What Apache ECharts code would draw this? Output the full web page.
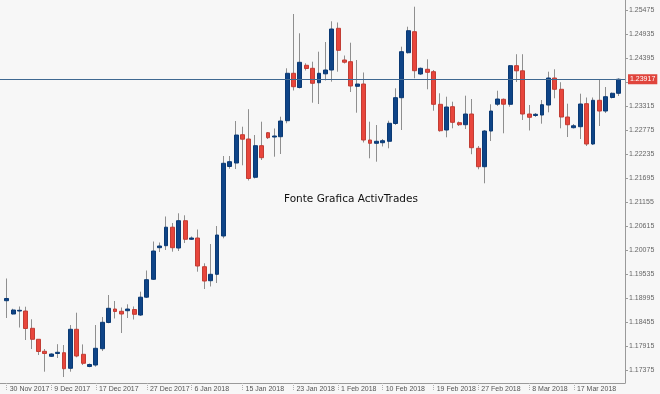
<!DOCTYPE html>
<html><head><meta charset="utf-8">
<script src="https://cdn.jsdelivr.net/npm/echarts@6/dist/echarts.min.js"></script>
<style>html,body{margin:0;padding:0;background:#f7f7f7}#c{width:660px;height:394px}</style>
</head><body><div id="c"></div>
<script>
const opens = [1.18934,1.18635,1.18702,1.18702,1.18313,1.18066,1.17796,1.17683,1.17746,1.17764,
1.17413,1.18291,1.17728,1.17454,1.17487,1.17854,1.18444,1.18747,1.18696,1.18709,
1.18736,1.18612,1.19013,1.19416,1.20127,1.20172,1.20588,1.20120,1.20734,1.20316,
1.20345,1.19699,1.19384,1.19528,1.20390,1.21954,1.22032,1.22669,1.22572,1.21711,
1.22422,1.22714,1.22617,1.22624,1.22984,1.24051,1.23731,1.24231,1.24163,1.23839,
1.24039,1.24125,1.25063,1.24350,1.24312,1.23758,1.23810,1.22550,1.22476,1.22489,
1.22521,1.22921,1.23502,1.24514,1.24987,1.24035,1.24141,1.24087,1.23353,1.22775,
1.23299,1.22939,1.22894,1.23135,1.22363,1.21949,1.22752,1.23355,1.23466,1.23353,
1.24222,1.24107,1.23135,1.23101,1.23112,1.23337,1.23945,1.23691,1.23067,1.22827,
1.22849,1.23367,1.22460,1.23443,1.23202,1.23506,1.23601];
const closes = [1.18984,1.18725,1.18718,1.18309,1.18066,1.17791,1.17746,1.17735,1.17773,1.17404,
1.18291,1.17690,1.17526,1.17499,1.17863,1.18448,1.18763,1.18691,1.18635,1.18747,
1.18628,1.19013,1.19407,1.20052,1.20165,1.20588,1.20127,1.20734,1.20316,1.20345,
1.19715,1.19377,1.19528,1.20412,1.22026,1.22062,1.22662,1.22568,1.21684,1.22422,
1.22152,1.22602,1.22640,1.22977,1.24051,1.23749,1.24298,1.24159,1.23826,1.24051,
1.24125,1.25047,1.24568,1.24300,1.23765,1.23810,1.22550,1.22476,1.22521,1.22534,
1.22926,1.23502,1.24537,1.25009,1.24109,1.24163,1.24073,1.23353,1.22759,1.23292,
1.22948,1.22894,1.23135,1.22377,1.21949,1.22752,1.23202,1.23472,1.23355,1.24222,
1.24107,1.23135,1.23061,1.23128,1.23344,1.23945,1.23691,1.23067,1.22894,1.22870,
1.23360,1.22460,1.23443,1.23202,1.23524,1.23601,1.23917];
const lows = [1.18545,1.18624,1.18331,1.18050,1.17847,1.17712,1.17337,1.17667,1.17645,1.17217,
1.17337,1.17661,1.17487,1.17436,1.17449,1.17802,1.18426,1.18534,1.18207,1.18545,
1.18511,1.18590,1.18995,1.19400,1.20030,1.20075,1.20037,1.20052,1.20232,1.20300,
1.19587,1.19197,1.19254,1.19332,1.20338,1.21904,1.21897,1.21981,1.21639,1.21684,
1.22100,1.22572,1.22174,1.22235,1.22926,1.23664,1.23709,1.24114,1.23389,1.23360,
1.23889,1.23862,1.24087,1.24271,1.23630,1.23164,1.22494,1.22138,1.22062,1.22404,
1.22363,1.22887,1.22775,1.24496,1.23938,1.24012,1.23691,1.23209,1.22737,1.22611,
1.22813,1.22865,1.22797,1.22230,1.21891,1.21576,1.22527,1.23315,1.22701,1.23299,
1.23855,1.23000,1.22764,1.23067,1.22917,1.23173,1.23488,1.22813,1.22617,1.22809,
1.22572,1.22415,1.22437,1.22865,1.23157,1.23484,1.23540];
const highs = [1.19434,1.18754,1.18804,1.18799,1.18516,1.17978,1.17847,1.17751,1.17956,1.17937,
1.18387,1.18664,1.17951,1.17521,1.18387,1.18567,1.19062,1.18927,1.18781,1.18853,
1.18804,1.19137,1.19614,1.20266,1.20244,1.20829,1.20682,1.20901,1.20856,1.20380,
1.20536,1.19776,1.20210,1.20615,1.22190,1.22190,1.22977,1.22849,1.23243,1.22662,
1.22962,1.22730,1.22809,1.23074,1.24163,1.25385,1.24951,1.24276,1.24312,1.24537,
1.24755,1.25221,1.25194,1.24451,1.24739,1.24350,1.24069,1.22962,1.22887,1.22572,
1.22984,1.23713,1.24649,1.25099,1.25549,1.24181,1.24366,1.24125,1.23601,1.23524,
1.23412,1.22966,1.23547,1.23472,1.22415,1.22775,1.23353,1.23659,1.23484,1.24237,
1.24480,1.24480,1.23337,1.23157,1.23450,1.24087,1.24141,1.23850,1.23367,1.22910,
1.23592,1.23506,1.23506,1.23900,1.23742,1.23619,1.23938];
const priceTicks = [1.17375,1.17915,1.18455,1.18995,1.19535,1.20075,1.20615,1.21155,1.21695,1.22235,1.22775,1.23315,1.23855,1.24395,1.24935,1.25475];
const shownPriceTicks = priceTicks.filter(v => Math.abs(v - 1.23855) > 1e-9);
const dateLabelIndex = [0,7,14,22,29,37,45,52,59,67,74,82,89];
const dateLabels = ['30 Nov 2017','9 Dec 2017','17 Dec 2017','27 Dec 2017','6 Jan 2018','15 Jan 2018','23 Jan 2018','1 Feb 2018','10 Feb 2018','19 Feb 2018','27 Feb 2018','8 Mar 2018','17 Mar 2018'];
const watermark = 'Fonte Grafica ActivTrades';

const wickData = opens.map((o, i) => [i, o, closes[i], lows[i], highs[i]]);
const bodyData = opens.map((o, i) => [i, o, closes[i], Math.min(o, closes[i]), Math.max(o, closes[i])]);
const lastClose = closes[closes.length - 1];

const chart = echarts.init(document.getElementById('c'), null, {renderer: 'canvas'});
chart.setOption({
  animation: false,
  backgroundColor: '#f7f7f7',
  textStyle: {fontFamily: 'Liberation Sans, Arial, sans-serif'},
  grid: {left: 0, top: 0, width: 625, height: 383, containLabel: false},
  graphic: [{
    type: 'text', left: 284, top: 194, silent: true,
    style: {text: watermark, fill: '#111', font: '10.5px "DejaVu Sans"'}
  }],
  xAxis: {
    type: 'value', min: -1.05, max: 97.02,
    axisLine: {show: true, onZero: false, lineStyle: {color: '#9a9a9a', width: 1}},
    splitLine: {show: false},
    axisTick: {show: true, customValues: dateLabelIndex, length: 7, lineStyle: {color: '#b0b0b0', type: 'dotted'}},
    axisLabel: {
      customValues: dateLabelIndex, showMinLabel: true, showMaxLabel: true,
      align: 'left', margin: 3, fontSize: 7, color: '#555',
      padding: [0, 0, 0, 3],
      formatter: v => dateLabels[dateLabelIndex.indexOf(Math.round(v))] || ''
    }
  },
  yAxis: {
    type: 'value', position: 'right', min: 1.170825, max: 1.257, scale: true,
    axisLine: {show: true, onZero: false, lineStyle: {color: '#9a9a9a', width: 1}},
    splitLine: {show: false},
    axisTick: {show: true, customValues: priceTicks, length: 3, lineStyle: {color: '#9a9a9a'}},
    axisLabel: {customValues: shownPriceTicks, showMinLabel: true, showMaxLabel: true,
      fontSize: 7, color: '#666', margin: 4, formatter: v => v.toFixed(5)}
  },
  series: [{
    type: 'candlestick', name: 'wick', data: wickData, encode: {x: 0, y: [1, 2, 3, 4]},
    barWidth: 0.1, silent: true,
    itemStyle: {color: '#8f8f8f', color0: '#8f8f8f', borderColor: '#8f8f8f', borderColor0: '#8f8f8f', borderWidth: 1}
  }, {
    type: 'candlestick', name: 'body', data: bodyData, encode: {x: 0, y: [1, 2, 3, 4]},
    barWidth: 4.4, silent: true,
    itemStyle: {color: '#0e4487', color0: '#e8463c', borderColor: '#0b3a74', borderColor0: '#c23d34', borderWidth: 1},
    markLine: {
      silent: true, symbol: 'none', animation: false, precision: 5,
      lineStyle: {color: '#3f6891', width: 1, type: 'solid'},
      label: {
        show: true, position: 'end', distance: 3, formatter: p => Number(p.value).toFixed(5),
        backgroundColor: '#e0453d', color: '#fff', fontSize: 7, padding: [2, 2, 1, 2]
      },
      data: [{yAxis: lastClose}]
    }
  }]
});
</script></body></html>
